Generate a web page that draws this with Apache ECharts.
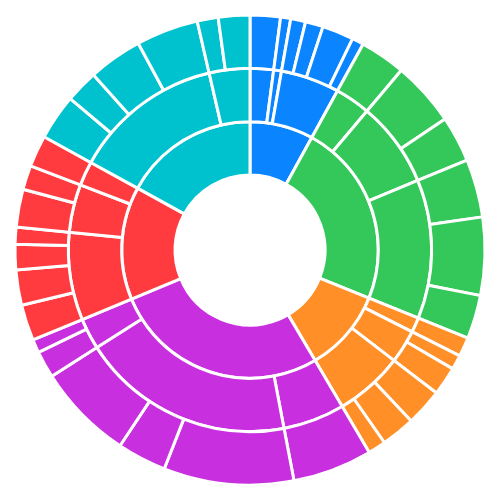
<!DOCTYPE html>
<html><head><meta charset="utf-8">
<script src="https://cdn.jsdelivr.net/npm/echarts@6/dist/echarts.min.js"></script>
<style>html,body{margin:0;padding:0;background:#fff}#c{width:500px;height:500px}</style>
</head><body><div id="c"></div>
<script>
const groups = ['A','B','C','D','E','F'];
const colors = ['#0a84ff','#34c759','#ff8f26','#c82fdf','#ff3b3f','#00c2cf'];
// leaf values per group -> per child
const blueLeaves   = [[7.5],[2.5],[3.7,4.4,7.8,2.9]];
const greenLeaves  = [[11.3],[16,11.4],[14.4,19.3,10.8]];
const orangeLeaves = [[4.8],[3.6,7.1],[9.2,8.4,4.4]];
const purpleLeaves = [[19.7],[32.2,12.2,23.9],[6.7,3.3]];
const redLeaves    = [[8.9,8.7,6.3,4.2],[9.4,6],[7.8]];
const cyanLeaves   = [[11.3,8.1,13.4,15.4],[5.2,7.8]];
const allLeaves = [blueLeaves,greenLeaves,orangeLeaves,purpleLeaves,redLeaves,cyanLeaves];

const data = allLeaves.map((g,gi)=>({
  name: groups[gi],
  itemStyle:{color:colors[gi]},
  children: g.map((c,ci)=>({
    name: groups[gi]+(ci+1),
    itemStyle:{color:colors[gi]},
    children: c.map((v,li)=>({name: groups[gi]+(ci+1)+'-'+(li+1), value: v, itemStyle:{color:colors[gi]}}))
  }))
}));

const chart = echarts.init(document.getElementById('c'));
chart.setOption({
  animation:false,
  series:[{
    type:'sunburst',
    center:['50%','50%'],
    radius:[75,235],
    sort:null,
    startAngle:90,
    data:data,
    label:{show:false},
    itemStyle:{borderColor:'#fff',borderWidth:3},
    levels:[{},{itemStyle:{opacity:1}},{itemStyle:{opacity:1}},{itemStyle:{opacity:1}}],
    emphasis:{disabled:true}
  }]
});
</script></body></html>
